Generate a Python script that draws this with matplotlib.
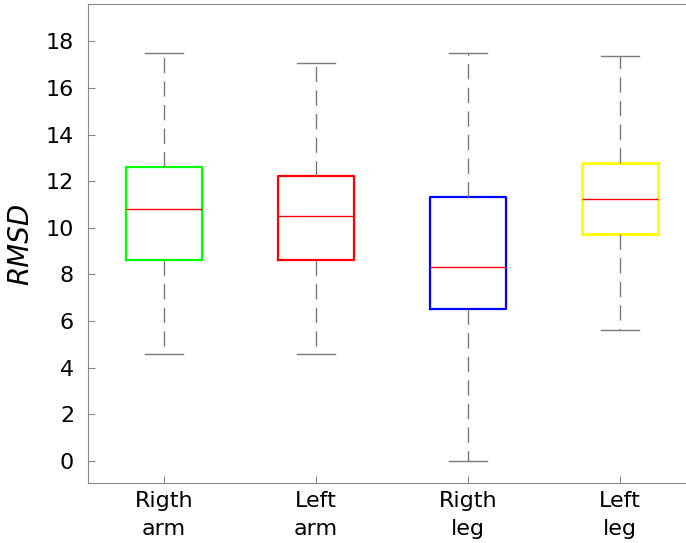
import matplotlib
matplotlib.use("Agg")
import matplotlib.pyplot as plt

# values
labels = ["Rigth\narm", "Left\narm", "Rigth\nleg", "Left\nleg"]
whislo = [4.6, 4.6, 0.0, 5.6]
q1 = [8.6, 8.6, 6.5, 9.75]
med = [10.8, 10.5, 8.3, 11.25]
q3 = [12.6, 12.2, 11.3, 12.8]
whishi = [17.5, 17.05, 17.5, 17.35]
box_colors = ["#00ff00", "#ff0000", "#0000ff", "#ffff00"]

stats = []
for i in range(len(labels)):
    stats.append(dict(label=labels[i], whislo=whislo[i], q1=q1[i], med=med[i],
                      q3=q3[i], whishi=whishi[i], fliers=[]))

fig = plt.figure(figsize=(6.86, 5.43), dpi=100)
ax = fig.add_axes([88 / 686, 60 / 543, 608 / 686, 479 / 543])

gray = "#7a7a7a"
bp = ax.bxp(stats, positions=[1, 2, 3, 4], widths=0.5, showfliers=False,
            patch_artist=False,
            whiskerprops=dict(color=gray, linewidth=1.0, linestyle=(0, (11, 6))),
            capprops=dict(color=gray, linewidth=1.0),
            medianprops=dict(color="#ff0000", linewidth=1.0),
            boxprops=dict(linewidth=1.6))
for b, c in zip(bp["boxes"], box_colors):
    b.set_color(c)
bp["boxes"][3].set_linewidth(2.0)
for cap in bp["caps"]:
    x0, x1 = cap.get_xdata()
    m = (x0 + x1) / 2
    cap.set_xdata([m - 0.125, m + 0.125])

ax.set_xlim(0.5, 4.5)
ax.set_ylim(-0.95, 19.6)
ax.set_yticks(range(0, 19, 2))
ax.set_xticks([1, 2, 3, 4])
ax.set_xticklabels(labels, linespacing=1.45)
ax.tick_params(direction="in", labelsize=16, color="#888888", length=5)
ax.tick_params(axis="y", pad=10)
ax.tick_params(axis="x", pad=6)
for s in ["left", "bottom", "top"]:
    ax.spines[s].set_color("#888888")
ax.spines["right"].set_visible(False)
ax.set_ylabel("RMSD", fontsize=20, style="italic", labelpad=8)

fig.savefig("out.png", dpi=100)
